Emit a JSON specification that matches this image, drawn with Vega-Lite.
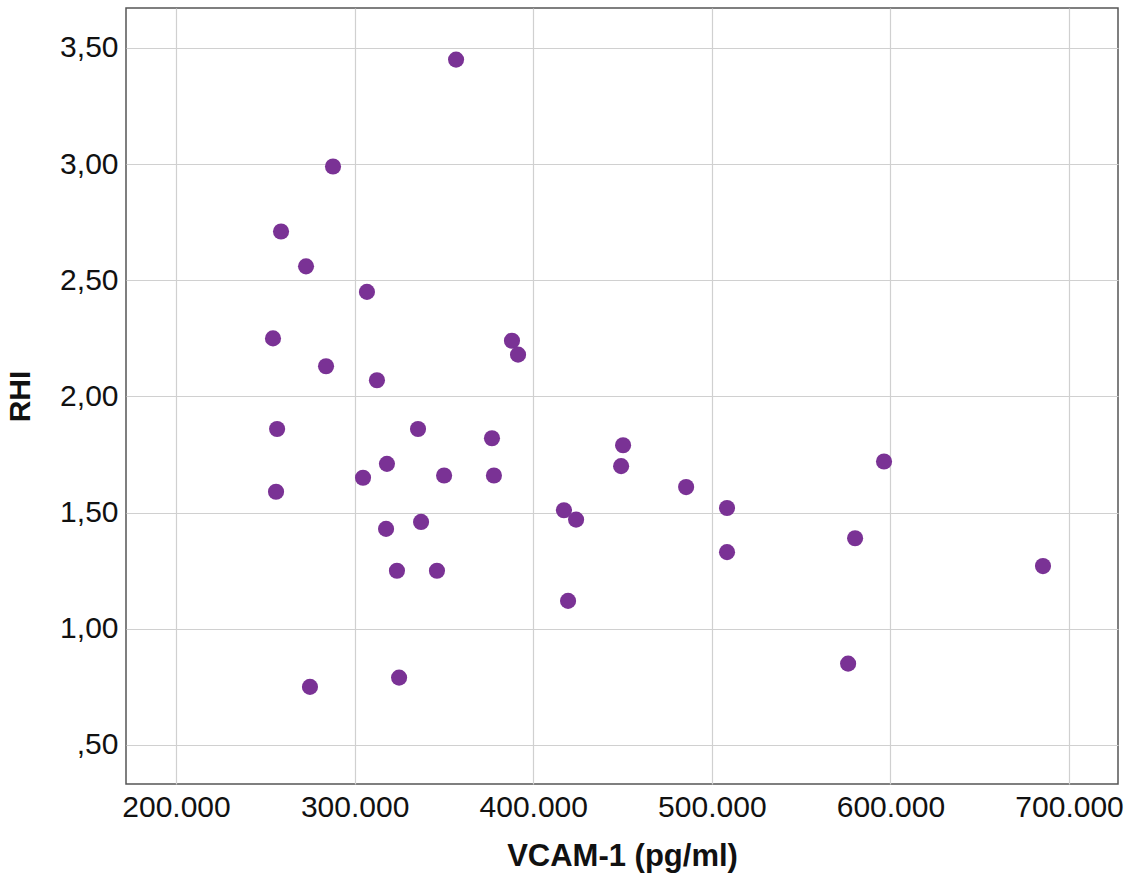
{
  "$schema": "https://vega.github.io/schema/vega-lite/v6.json",
  "width": 992,
  "height": 776,
  "autosize": {"type": "none"},
  "padding": {"left": 126, "top": 8, "right": 14, "bottom": 90},
  "background": "white",
  "config": {
    "view": {"stroke": "#555555", "strokeWidth": 1.5},
    "font": "Liberation Sans"
  },
  "data": {
    "values": [
      {"vcam": 356800, "rhi": 3.45},
      {"vcam": 287900, "rhi": 2.99},
      {"vcam": 258800, "rhi": 2.71},
      {"vcam": 272800, "rhi": 2.56},
      {"vcam": 306900, "rhi": 2.45},
      {"vcam": 254300, "rhi": 2.25},
      {"vcam": 388100, "rhi": 2.24},
      {"vcam": 391500, "rhi": 2.18},
      {"vcam": 284000, "rhi": 2.13},
      {"vcam": 312500, "rhi": 2.07},
      {"vcam": 256600, "rhi": 1.86},
      {"vcam": 335500, "rhi": 1.86},
      {"vcam": 376900, "rhi": 1.82},
      {"vcam": 450300, "rhi": 1.79},
      {"vcam": 596400, "rhi": 1.72},
      {"vcam": 318100, "rhi": 1.71},
      {"vcam": 449200, "rhi": 1.70},
      {"vcam": 304700, "rhi": 1.65},
      {"vcam": 350100, "rhi": 1.66},
      {"vcam": 378000, "rhi": 1.66},
      {"vcam": 485600, "rhi": 1.61},
      {"vcam": 256000, "rhi": 1.59},
      {"vcam": 508500, "rhi": 1.52},
      {"vcam": 417200, "rhi": 1.51},
      {"vcam": 424000, "rhi": 1.47},
      {"vcam": 337200, "rhi": 1.46},
      {"vcam": 317600, "rhi": 1.43},
      {"vcam": 508500, "rhi": 1.33},
      {"vcam": 580200, "rhi": 1.39},
      {"vcam": 323700, "rhi": 1.25},
      {"vcam": 346100, "rhi": 1.25},
      {"vcam": 685400, "rhi": 1.27},
      {"vcam": 419500, "rhi": 1.12},
      {"vcam": 576300, "rhi": 0.85},
      {"vcam": 275000, "rhi": 0.75},
      {"vcam": 324900, "rhi": 0.79}
    ]
  },
  "mark": {"type": "circle", "size": 260, "color": "#7a3295", "opacity": 1},
  "encoding": {
    "x": {
      "field": "vcam",
      "type": "quantitative",
      "title": "VCAM-1 (pg/ml)",
      "scale": {"domain": [172000, 727400], "nice": false, "zero": false},
      "axis": {
        "values": [200000, 300000, 400000, 500000, 600000, 700000],
        "labelExpr": "replace(format(datum.value, ',d'), ',', '.')",
        "domain": false,
        "ticks": false,
        "grid": true,
        "gridColor": "#d0d0d0",
        "gridWidth": 1.2,
        "labelFontSize": 30,
        "labelColor": "#111111",
        "labelPadding": 8,
        "labelFont": "Liberation Sans",
        "titleFont": "Liberation Sans",
        "titleFontSize": 31,
        "titleFontWeight": "bold",
        "titleColor": "#111111",
        "titlePadding": 19
      }
    },
    "y": {
      "field": "rhi",
      "type": "quantitative",
      "title": "RHI",
      "scale": {"domain": [0.332, 3.672], "nice": false, "zero": false},
      "axis": {
        "values": [0.5, 1.0, 1.5, 2.0, 2.5, 3.0, 3.5],
        "labelExpr": "datum.value < 1 ? replace(format(datum.value, '.2f'), '0.', ',') : replace(format(datum.value, '.2f'), '.', ',')",
        "domain": false,
        "ticks": false,
        "grid": true,
        "gridColor": "#d0d0d0",
        "gridWidth": 1.2,
        "labelFontSize": 30,
        "labelColor": "#111111",
        "labelPadding": 8,
        "labelFont": "Liberation Sans",
        "titleFont": "Liberation Sans",
        "titleFontSize": 30,
        "titleFontWeight": "bold",
        "titleColor": "#111111",
        "titlePadding": 24
      }
    }
  }
}
